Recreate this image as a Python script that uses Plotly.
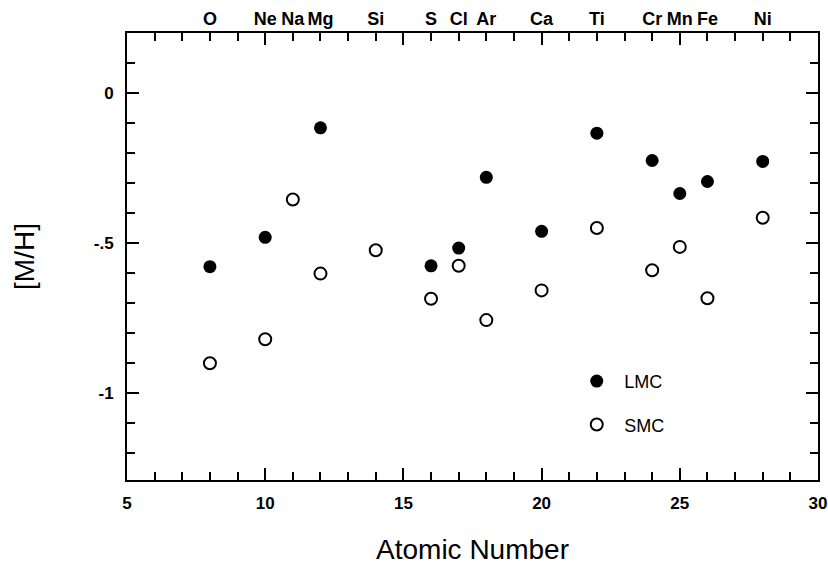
import plotly.graph_objects as go

elements = ["O", "Ne", "Na", "Mg", "Si", "S", "Cl", "Ar", "Ca", "Ti", "Cr", "Mn", "Fe", "Ni"]
element_z = [8, 10, 11, 12, 14, 16, 17, 18, 20, 22, 24, 25, 26, 28]

lmc_z = [8, 10, 12, 16, 17, 18, 20, 22, 24, 25, 26, 28]
lmc_mh = [-0.579, -0.481, -0.116, -0.576, -0.517, -0.281, -0.461, -0.134, -0.225, -0.335, -0.295, -0.228]

smc_z = [8, 10, 11, 12, 14, 16, 17, 18, 20, 22, 24, 25, 26, 28]
smc_mh = [-0.901, -0.821, -0.355, -0.602, -0.524, -0.686, -0.576, -0.757, -0.658, -0.450, -0.591, -0.513, -0.684, -0.416]

x_ticks = [5, 10, 15, 20, 25, 30]
y_ticks = [-1, -0.5, 0]
y_ticktext = ["-1", "-.5", "0"]

FONT = "Liberation Sans, Arial, Helvetica, sans-serif"

fig = go.Figure()
fig.add_trace(go.Scatter(
    x=lmc_z, y=lmc_mh, mode="markers", name="LMC", legendgroup="a",
    marker=dict(symbol="circle", size=13, color="black", line=dict(width=0)),
))
fig.add_trace(go.Scatter(
    x=smc_z, y=smc_mh, mode="markers", name="SMC", legendgroup="b",
    marker=dict(symbol="circle", size=12, color="white", line=dict(width=2, color="black")),
))
# carrier trace so the top element axis is drawn
fig.add_trace(go.Scatter(
    x=element_z, y=[None] * len(element_z), xaxis="x2", mode="markers",
    showlegend=False, hoverinfo="skip",
))

axis_common = dict(showgrid=False, zeroline=False, showline=True, linewidth=2, linecolor="black",
                   ticks="inside", tickwidth=2, tickcolor="black", ticklen=12, mirror="ticks",
                   automargin=False,
                   tickfont=dict(family=FONT, size=17, color="black", weight="bold"))

fig.update_layout(
    width=828, height=565,
    margin=dict(l=127, r=10, t=33, b=85),
    paper_bgcolor="white", plot_bgcolor="white",
    font=dict(family=FONT, color="black"),
    xaxis=dict(range=[5, 30], tickvals=x_ticks, ticktext=[str(v) for v in x_ticks],
               minor=dict(dtick=1, tick0=5, ticks="inside", ticklen=8, tickwidth=2, tickcolor="black"),
               title=dict(text="Atomic Number", font=dict(family=FONT, size=28, color="black"), standoff=27),
               ticklabelstandoff=7, tickangle=0,
               **axis_common),
    xaxis2=dict(range=[5, 30], overlaying="x", side="top", tickvals=element_z, ticktext=elements,
                showgrid=False, zeroline=False, showline=False, ticks="", automargin=False,
                ticklabelstandoff=3, tickangle=0,
                tickfont=dict(family=FONT, size=18, color="black", weight="bold")),
    yaxis=dict(range=[-1.29, 0.2], tickvals=y_ticks, ticktext=y_ticktext,
               minor=dict(dtick=0.1, tick0=0, ticks="inside", ticklen=8, tickwidth=2, tickcolor="black"),
               title=dict(text="[M/H]", font=dict(family=FONT, size=28, color="black"), standoff=51),
               ticklabelstandoff=8,
               **axis_common),
    legend=dict(x=0.64, y=0.262, xanchor="left", yanchor="top", bgcolor="rgba(0,0,0,0)",
                font=dict(family=FONT, size=18, color="black"), traceorder="grouped",
                tracegroupgap=17, itemwidth=45),
    showlegend=True,
)

fig.write_html("out.html")
